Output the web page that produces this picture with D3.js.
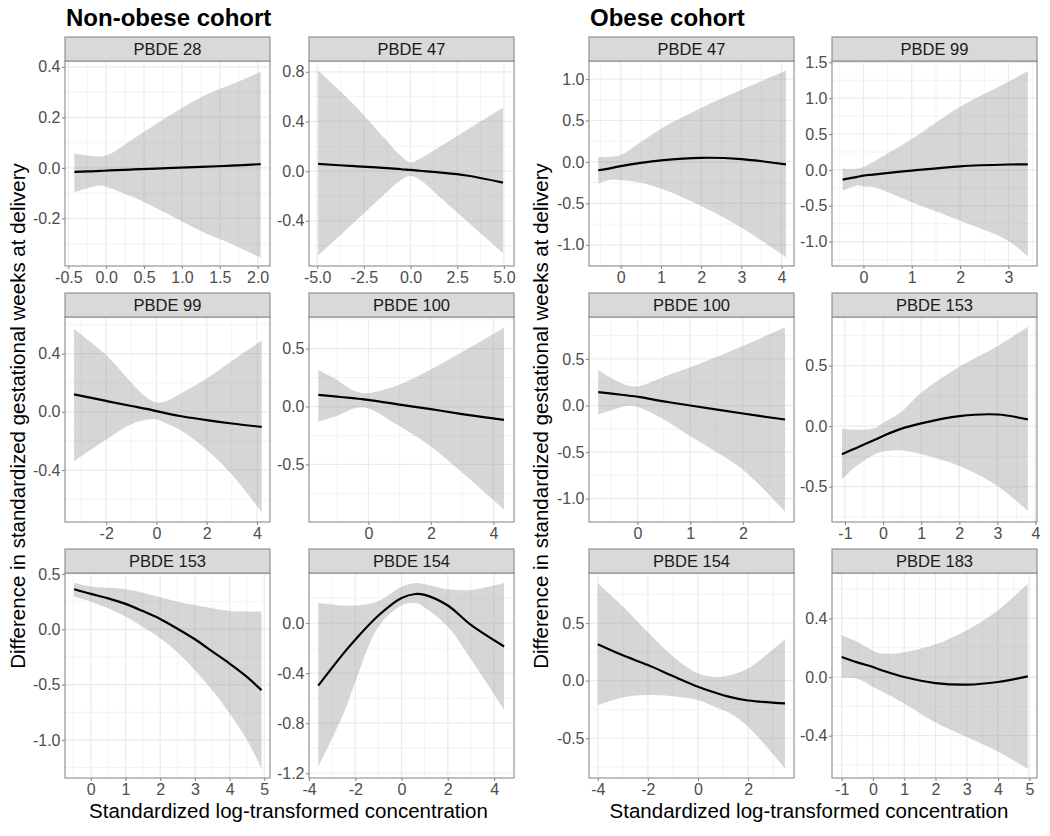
<!DOCTYPE html>
<html><head><meta charset="utf-8">
<script src="https://cdn.jsdelivr.net/npm/d3@7"></script>
<style>body{margin:0;background:#fff} svg{display:block}</style>
</head><body><svg id="c" width="1050" height="836"></svg>
<script>
// ---------- DATA ----------
const cohortTitles = ["Non-obese cohort", "Obese cohort"];
const yTitle = "Difference in standardized gestational weeks at delivery";
const xTitle = "Standardized log-transformed concentration";

// Non-obese PBDE 28
const no28_x   = [-0.42, -0.25, -0.08, 0.05, 0.36, 0.8, 1.25, 1.65, 2.04];
const no28_fit = [-0.016, -0.014, -0.012, -0.010, -0.006, -0.001, 0.004, 0.009, 0.015];
const no28_hi  = [0.057, 0.05, 0.045, 0.055, 0.115, 0.2, 0.28, 0.33, 0.38];
const no28_lo  = [-0.096, -0.08, -0.07, -0.08, -0.116, -0.18, -0.25, -0.3, -0.356];
const no28_xt  = ["-0.5", "0.0", "0.5", "1.0", "1.5", "2.0"];
const no28_yt  = ["-0.2", "0.0", "0.2", "0.4"];
const no28_xd  = [-0.544, 2.163];
const no28_yd  = [-0.388, 0.423];

// Non-obese PBDE 47
const no47_x   = [-4.95, -3.0, -1.5, -0.5, 0.0, 0.5, 1.5, 3.0, 4.95];
const no47_fit = [0.058, 0.04, 0.027, 0.015, 0.01, 0.003, -0.01, -0.035, -0.092];
const no47_hi  = [0.81, 0.53, 0.28, 0.12, 0.07, 0.1, 0.19, 0.33, 0.51];
const no47_lo  = [-0.68, -0.41, -0.2, -0.07, -0.04, -0.07, -0.2, -0.4, -0.66];
const no47_xt  = ["-5.0", "-2.5", "0.0", "2.5", "5.0"];
const no47_yt  = ["-0.4", "0.0", "0.4", "0.8"];
const no47_xd  = [-5.44, 5.54];
const no47_yd  = [-0.764, 0.887];

// Obese PBDE 47
const ob47_x   = [-0.56, -0.3, 0.0, 0.5, 1.0, 2.0, 3.0, 4.11];
const ob47_fit = [-0.10, -0.08, -0.05, -0.01, 0.02, 0.05, 0.035, -0.03];
const ob47_hi  = [0.06, 0.06, 0.085, 0.24, 0.40, 0.65, 0.87, 1.10];
const ob47_lo  = [-0.26, -0.22, -0.22, -0.25, -0.32, -0.53, -0.79, -1.15];
const ob47_xt  = ["0", "1", "2", "3", "4"];
const ob47_yt  = ["-1.0", "-0.5", "0.0", "0.5", "1.0"];
const ob47_xd  = [-0.79, 4.31];
const ob47_yd  = [-1.255, 1.218];

// Obese PBDE 99
const ob99_x   = [-0.43, -0.15, 0.0, 0.2, 1.0, 2.0, 3.0, 3.4];
const ob99_fit = [-0.135, -0.10, -0.08, -0.065, -0.01, 0.05, 0.075, 0.078];
const ob99_hi  = [0.015, 0.015, 0.04, 0.11, 0.43, 0.88, 1.23, 1.38];
const ob99_lo  = [-0.29, -0.22, -0.23, -0.24, -0.45, -0.71, -0.99, -1.21];
const ob99_xt  = ["0", "1", "2", "3"];
const ob99_yt  = ["-1.0", "-0.5", "0.0", "0.5", "1.0", "1.5"];
const ob99_xd  = [-0.65, 3.59];
const ob99_yd  = [-1.34, 1.518];

// Non-obese PBDE 99
const no99_x   = [-3.28, -2.0, -1.0, -0.4, 0.0, 0.4, 1.0, 2.0, 3.0, 4.19];
const no99_fit = [0.12, 0.075, 0.04, 0.02, 0.005, -0.01, -0.03, -0.057, -0.08, -0.103];
const no99_hi  = [0.57, 0.39, 0.2, 0.1, 0.065, 0.075, 0.13, 0.23, 0.35, 0.49];
const no99_lo  = [-0.34, -0.19, -0.085, -0.055, -0.05, -0.08, -0.13, -0.26, -0.43, -0.69];
const no99_xt  = ["-2", "0", "2", "4"];
const no99_yt  = ["-0.4", "0.0", "0.4"];
const no99_xd  = [-3.64, 4.52];
const no99_yd  = [-0.757, 0.652];

// Non-obese PBDE 100
const no100_x   = [-1.6, -1.0, -0.5, -0.25, 0.0, 1.0, 2.0, 3.0, 4.34];
const no100_fit = [0.10, 0.085, 0.072, 0.065, 0.057, 0.017, -0.023, -0.065, -0.115];
const no100_hi  = [0.316, 0.23, 0.14, 0.12, 0.115, 0.19, 0.32, 0.47, 0.68];
const no100_lo  = [-0.13, -0.08, -0.02, -0.006, -0.014, -0.17, -0.345, -0.57, -0.89];
const no100_xt  = ["0", "2", "4"];
const no100_yt  = ["-0.5", "0.0", "0.5"];
const no100_xd  = [-1.9, 4.66];
const no100_yd  = [-0.997, 0.773];

// Obese PBDE 100
const ob100_x   = [-0.745, -0.45, -0.15, 0.05, 0.5, 1.0, 2.0, 2.80];
const ob100_fit = [0.143, 0.125, 0.105, 0.09, 0.045, 0.0, -0.086, -0.15];
const ob100_hi  = [0.38, 0.28, 0.21, 0.21, 0.31, 0.41, 0.64, 0.84];
const ob100_lo  = [-0.096, -0.043, 0.0, -0.025, -0.15, -0.33, -0.69, -1.14];
const ob100_xt  = ["0", "1", "2"];
const ob100_yt  = ["-1.0", "-0.5", "0.0", "0.5"];
const ob100_xd  = [-0.92, 2.97];
const ob100_yd  = [-1.25, 0.95];

// Obese PBDE 153
const ob153_x   = [-1.08, -0.7, -0.2, 0.0, 0.45, 1.0, 2.0, 3.0, 3.8];
const ob153_fit = [-0.233, -0.18, -0.11, -0.082, -0.025, 0.022, 0.082, 0.096, 0.055];
const ob153_hi  = [-0.022, -0.03, -0.015, 0.027, 0.11, 0.275, 0.49, 0.66, 0.82];
const ob153_lo  = [-0.44, -0.33, -0.23, -0.21, -0.2, -0.233, -0.33, -0.495, -0.70];
const ob153_xt  = ["-1", "0", "1", "2", "3", "4"];
const ob153_yt  = ["-0.5", "0.0", "0.5"];
const ob153_xd  = [-1.34, 4.04];
const ob153_yd  = [-0.792, 0.901];

// Non-obese PBDE 153
const no153_x   = [-0.48, 0.0, 0.5, 1.0, 1.5, 2.0, 2.5, 3.0, 3.5, 4.0, 4.5, 4.92];
const no153_fit = [0.362, 0.32, 0.28, 0.23, 0.165, 0.094, 0.005, -0.09, -0.2, -0.31, -0.43, -0.55];
const no153_hi  = [0.42, 0.386, 0.375, 0.362, 0.33, 0.29, 0.25, 0.22, 0.19, 0.166, 0.16, 0.16];
const no153_lo  = [0.296, 0.25, 0.19, 0.115, 0.02, -0.08, -0.21, -0.37, -0.55, -0.76, -1.0, -1.26];
const no153_xt  = ["0", "1", "2", "3", "4", "5"];
const no153_yt  = ["-1.0", "-0.5", "0.0", "0.5"];
const no153_xd  = [-0.744, 5.165];
const no153_yd  = [-1.344, 0.509];

// Non-obese PBDE 154
const no154_x   = [-3.6, -2.5, -2.0, -1.0, 0.0, 0.6, 1.0, 2.0, 3.0, 4.43];
const no154_fit = [-0.5, -0.24, -0.133, 0.06, 0.2, 0.232, 0.225, 0.14, -0.015, -0.187];
const no154_hi  = [0.16, 0.14, 0.14, 0.175, 0.29, 0.32, 0.31, 0.27, 0.265, 0.32];
const no154_lo  = [-1.147, -0.72, -0.47, -0.03, 0.14, 0.16, 0.125, -0.03, -0.29, -0.693];
const no154_xt  = ["-4", "-2", "0", "2", "4"];
const no154_yt  = ["-1.2", "-0.8", "-0.4", "0.0"];
const no154_xd  = [-4.0, 4.86];
const no154_yd  = [-1.238, 0.4];

// Obese PBDE 154
const ob154_x   = [-4.0, -3.0, -2.0, -1.0, 0.0, 0.7, 1.3, 2.0, 3.47];
const ob154_fit = [0.316, 0.22, 0.136, 0.04, -0.052, -0.105, -0.143, -0.172, -0.197];
const ob154_hi  = [0.846, 0.645, 0.42, 0.21, 0.064, 0.03, 0.049, 0.107, 0.359];
const ob154_lo  = [-0.212, -0.145, -0.125, -0.135, -0.168, -0.23, -0.284, -0.4, -0.762];
const ob154_xt  = ["-4", "-2", "0", "2"];
const ob154_yt  = ["-0.5", "0.0", "0.5"];
const ob154_xd  = [-4.35, 3.83];
const ob154_yd  = [-0.845, 0.935];

// Obese PBDE 183
const ob183_x   = [-1.0, -0.5, 0.0, 0.3, 1.0, 2.0, 3.0, 4.0, 4.95];
const ob183_fit = [0.137, 0.1, 0.068, 0.045, 0.0, -0.041, -0.052, -0.034, 0.005];
const ob183_hi  = [0.285, 0.24, 0.18, 0.16, 0.17, 0.223, 0.32, 0.456, 0.638];
const ob183_lo  = [-0.007, -0.011, -0.068, -0.1, -0.18, -0.31, -0.41, -0.51, -0.627];
const ob183_xt  = ["-1", "0", "1", "2", "3", "4", "5"];
const ob183_yt  = ["-0.4", "0.0", "0.4"];
const ob183_xd  = [-1.31, 5.245];
const ob183_yd  = [-0.689, 0.71];

const panelNames = ["PBDE 28", "PBDE 47", "PBDE 47", "PBDE 99",
                    "PBDE 99", "PBDE 100", "PBDE 100", "PBDE 153",
                    "PBDE 153", "PBDE 154", "PBDE 154", "PBDE 183"];

// ---------- BUILD ----------
function mk(name, x, fit, lo, hi, xt, yt, xd, yd) {
  return {name, pts: x.map((v, i) => ({x: v, f: fit[i], lo: lo[i], hi: hi[i]})), xt, yt, xd, yd};
}
const panels = [
  mk(panelNames[0], no28_x, no28_fit, no28_lo, no28_hi, no28_xt, no28_yt, no28_xd, no28_yd),
  mk(panelNames[1], no47_x, no47_fit, no47_lo, no47_hi, no47_xt, no47_yt, no47_xd, no47_yd),
  mk(panelNames[2], ob47_x, ob47_fit, ob47_lo, ob47_hi, ob47_xt, ob47_yt, ob47_xd, ob47_yd),
  mk(panelNames[3], ob99_x, ob99_fit, ob99_lo, ob99_hi, ob99_xt, ob99_yt, ob99_xd, ob99_yd),
  mk(panelNames[4], no99_x, no99_fit, no99_lo, no99_hi, no99_xt, no99_yt, no99_xd, no99_yd),
  mk(panelNames[5], no100_x, no100_fit, no100_lo, no100_hi, no100_xt, no100_yt, no100_xd, no100_yd),
  mk(panelNames[6], ob100_x, ob100_fit, ob100_lo, ob100_hi, ob100_xt, ob100_yt, ob100_xd, ob100_yd),
  mk(panelNames[7], ob153_x, ob153_fit, ob153_lo, ob153_hi, ob153_xt, ob153_yt, ob153_xd, ob153_yd),
  mk(panelNames[8], no153_x, no153_fit, no153_lo, no153_hi, no153_xt, no153_yt, no153_xd, no153_yd),
  mk(panelNames[9], no154_x, no154_fit, no154_lo, no154_hi, no154_xt, no154_yt, no154_xd, no154_yd),
  mk(panelNames[10], ob154_x, ob154_fit, ob154_lo, ob154_hi, ob154_xt, ob154_yt, ob154_xd, ob154_yd),
  mk(panelNames[11], ob183_x, ob183_fit, ob183_lo, ob183_hi, ob183_xt, ob183_yt, ob183_xd, ob183_yd)
];

// ---------- LAYOUT ----------
const FONT = "'Liberation Sans', Arial, Helvetica, sans-serif";
const colLeft = [65, 309, 589, 832], colW = 205;
const stripTop = [37, 293, 549], stripH = 24, plotH = 205;
const borderCol = "#8a8a8a", gridCol = "#ebebeb";
const smooth = d3.curveCatmullRom.alpha(0.5);

const svg = d3.select("#c").style("font-family", FONT);
svg.append("rect").attr("width", 1050).attr("height", 836).attr("fill", "#fff");

function minors(vals, dom) {
  const step = vals.length > 1 ? vals[1] - vals[0] : 1;
  const out = [];
  for (let i = -1; i < vals.length; i++) {
    const m = (i < 0 ? vals[0] - step / 2 : vals[i] + step / 2);
    if (m > dom[0] && m < dom[1]) out.push(m);
  }
  return out;
}

panels.forEach((p, i) => {
  const c = i % 4, r = Math.floor(i / 4);
  const x0 = colLeft[c], y0 = stripTop[r] + stripH;
  const g = svg.append("g").attr("transform", `translate(${x0},${y0})`);
  const xs = d3.scaleLinear().domain(p.xd).range([0, colW]);
  const ys = d3.scaleLinear().domain(p.yd).range([plotH, 0]);
  const xv = p.xt.map(Number), yv = p.yt.map(Number);

  g.append("rect").attr("width", colW).attr("height", plotH).attr("fill", "#fff");
  const clipId = "clip" + i;
  g.append("clipPath").attr("id", clipId).append("rect").attr("width", colW).attr("height", plotH);

  const gg = g.append("g").attr("clip-path", `url(#${clipId})`);
  minors(xv, p.xd).forEach(v => gg.append("line").attr("x1", xs(v)).attr("x2", xs(v)).attr("y1", 0).attr("y2", plotH)
    .attr("stroke", gridCol).attr("stroke-width", 0.6));
  minors(yv, p.yd).forEach(v => gg.append("line").attr("y1", ys(v)).attr("y2", ys(v)).attr("x1", 0).attr("x2", colW)
    .attr("stroke", gridCol).attr("stroke-width", 0.6));
  xv.forEach(v => gg.append("line").attr("x1", xs(v)).attr("x2", xs(v)).attr("y1", 0).attr("y2", plotH)
    .attr("stroke", gridCol).attr("stroke-width", 1.2));
  yv.forEach(v => gg.append("line").attr("y1", ys(v)).attr("y2", ys(v)).attr("x1", 0).attr("x2", colW)
    .attr("stroke", gridCol).attr("stroke-width", 1.2));

  const area = d3.area().x(d => xs(d.x)).y0(d => ys(d.lo)).y1(d => ys(d.hi)).curve(smooth);
  gg.append("path").datum(p.pts).attr("d", area).attr("fill", "#999999").attr("fill-opacity", 0.4);
  const line = d3.line().x(d => xs(d.x)).y(d => ys(d.f)).curve(smooth);
  gg.append("path").datum(p.pts).attr("d", line).attr("fill", "none").attr("stroke", "#000")
    .attr("stroke-width", 2.2).attr("stroke-linecap", "butt");

  g.append("rect").attr("width", colW).attr("height", plotH).attr("fill", "none")
    .attr("stroke", borderCol).attr("stroke-width", 1.1);

  const s = svg.append("g").attr("transform", `translate(${x0},${stripTop[r]})`);
  s.append("rect").attr("width", colW).attr("height", stripH).attr("fill", "#d9d9d9")
    .attr("stroke", borderCol).attr("stroke-width", 1.1);
  s.append("text").attr("x", colW / 2).attr("y", stripH / 2).attr("dy", "0.36em")
    .attr("text-anchor", "middle").attr("font-size", "16.5px").attr("fill", "#1a1a1a").text(p.name);

  const ax = g.append("g").attr("transform", `translate(0,${plotH})`)
    .call(d3.axisBottom(xs).tickValues(xv).tickFormat((d, k) => p.xt[k]).tickSize(3).tickPadding(2.5));
  const ay = g.append("g")
    .call(d3.axisLeft(ys).tickValues(yv).tickFormat((d, k) => p.yt[k]).tickSize(3).tickPadding(1.5));
  [ax, ay].forEach(a => {
    a.select(".domain").remove();
    a.selectAll("line").attr("stroke", borderCol).attr("stroke-width", 1.1);
    a.selectAll("text").attr("font-size", "16px").attr("fill", "#4d4d4d").attr("font-family", FONT);
  });
});

svg.append("text").attr("x", 66).attr("y", 26).attr("font-size", "24px").attr("font-weight", "bold")
  .attr("fill", "#000").text(cohortTitles[0]);
svg.append("text").attr("x", 590).attr("y", 26).attr("font-size", "24px").attr("font-weight", "bold")
  .attr("fill", "#000").text(cohortTitles[1]);

[25, 548].forEach(bx => {
  svg.append("text").attr("transform", `translate(${bx},416) rotate(-90)`).attr("text-anchor", "middle")
    .attr("font-size", "20.5px").attr("fill", "#000").text(yTitle);
});
[288.5, 809].forEach(cx => {
  svg.append("text").attr("x", cx).attr("y", 818).attr("text-anchor", "middle")
    .attr("font-size", "20.5px").attr("fill", "#000").text(xTitle);
});
</script>
</body></html>
